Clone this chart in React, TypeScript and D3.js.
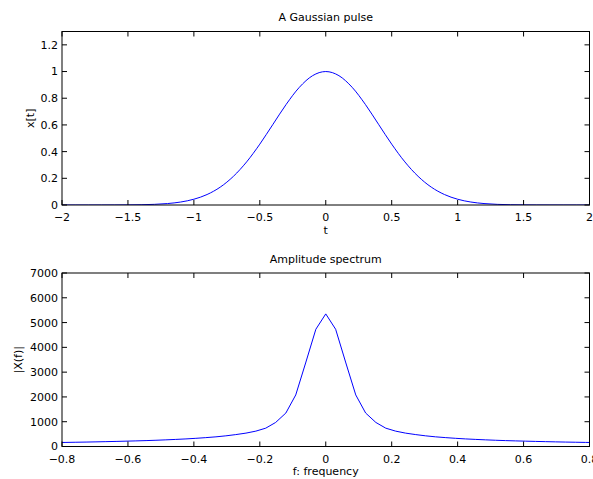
import React from "react";
import * as d3 from "d3";

const W = 593;
const H = 479;

// Top panel: Gaussian pulse
const pulseT = [
  -2, -1.9, -1.8, -1.7, -1.6, -1.5, -1.4, -1.3, -1.2, -1.1, -1, -0.9, -0.8, -0.7, -0.6, -0.5, -0.4, -0.3, -0.2, -0.1,
  0, 0.1, 0.2, 0.3, 0.4, 0.5, 0.6, 0.7, 0.8, 0.9, 1, 1.1, 1.2, 1.3, 1.4, 1.5, 1.6, 1.7, 1.8, 1.9, 2,
];
const pulseX = [
  0, 0, 0, 0.0001, 0.0003, 0.00085, 0.0021, 0.0049, 0.0108, 0.0223, 0.0432, 0.0785, 0.134, 0.215, 0.323, 0.456,
  0.605, 0.754, 0.882, 0.969, 1, 0.969, 0.882, 0.754, 0.605, 0.456, 0.323, 0.215, 0.134, 0.0785, 0.0432, 0.0223,
  0.0108, 0.0049, 0.0021, 0.00085, 0.0003, 0.0001, 0, 0, 0,
];
const pulseXTicks = [-2, -1.5, -1, -0.5, 0, 0.5, 1, 1.5, 2];
const pulseYTicks = [0, 0.2, 0.4, 0.6, 0.8, 1, 1.2];

// Bottom panel: amplitude spectrum
const specF = [
  -0.818, -0.788, -0.758, -0.727, -0.697, -0.667, -0.636, -0.606, -0.576, -0.545, -0.515, -0.485, -0.455, -0.424,
  -0.394, -0.364, -0.333, -0.303, -0.273, -0.242, -0.212, -0.182, -0.152, -0.121, -0.091, -0.061, -0.030, 0,
  0.030, 0.061, 0.091, 0.121, 0.152, 0.182, 0.212, 0.242, 0.273, 0.303, 0.333, 0.364, 0.394, 0.424, 0.455, 0.485,
  0.515, 0.545, 0.576, 0.606, 0.636, 0.667, 0.697, 0.727, 0.758, 0.788, 0.818,
];
const specA = [
  159, 165, 172, 179, 187, 196, 205, 215, 226, 238, 252, 268, 286, 306, 330, 358, 390, 430, 480, 540, 620, 740,
  970, 1350, 2080, 3370, 4730, 5350, 4730, 3370, 2080, 1350, 970, 740, 620, 540, 480, 430, 390, 358, 330, 306,
  286, 268, 252, 238, 226, 215, 205, 196, 187, 179, 172, 165, 159,
];
const specXTicks = [-0.8, -0.6, -0.4, -0.2, 0, 0.2, 0.4, 0.6, 0.8];
const specYTicks = [0, 1000, 2000, 3000, 4000, 5000, 6000, 7000];

const FONT = "DejaVu Sans, sans-serif";
const FS = 11;
const TICK = 5;

type PanelProps = {
  id: string;
  top: number;
  bottom: number;
  left: number;
  right: number;
  xDomain: [number, number];
  yDomain: [number, number];
  xs: number[];
  ys: number[];
  xTicks: number[];
  yTicks: number[];
  title: string;
  titleY: number;
  xLabel: string;
  xLabelY: number;
  yLabel: string;
  yLabelX: number;
  curve: d3.CurveFactory;
};

function fmt(v: number) {
  const s = d3.format("")(v);
  return s;
}

function Panel(p: PanelProps) {
  const x = d3.scaleLinear().domain(p.xDomain).range([p.left, p.right]);
  const y = d3.scaleLinear().domain(p.yDomain).range([p.bottom, p.top]);
  const pts = p.xs.map((v, i) => [v, p.ys[i]] as [number, number]);
  const line = d3
    .line<[number, number]>()
    .x((d) => x(d[0]))
    .y((d) => y(d[1]))
    .curve(p.curve);
  const clipId = "clip-" + p.id;
  return (
    <g>
      <defs>
        <clipPath id={clipId}>
          <rect x={p.left} y={p.top} width={p.right - p.left} height={p.bottom - p.top} />
        </clipPath>
      </defs>
      <rect x={p.left} y={p.top} width={p.right - p.left} height={p.bottom - p.top} fill="#fff" />
      <path d={line(pts) || ""} fill="none" stroke="#0000ff" strokeWidth={1} clipPath={`url(#${clipId})`} />
      <rect
        x={p.left}
        y={p.top}
        width={p.right - p.left}
        height={p.bottom - p.top}
        fill="none"
        stroke="#000"
        strokeWidth={1}
      />
      {p.xTicks.map((t) => (
        <g key={"xt" + t}>
          <line x1={x(t)} x2={x(t)} y1={p.bottom} y2={p.bottom - TICK} stroke="#000" />
          <line x1={x(t)} x2={x(t)} y1={p.top} y2={p.top + TICK} stroke="#000" />
          <text
            x={x(t)}
            y={p.bottom + 16}
            textAnchor="middle"
            fontFamily={FONT}
            fontSize={FS}
            fill="#000"
          >
            {fmt(t)}
          </text>
        </g>
      ))}
      {p.yTicks.map((t) => (
        <g key={"yt" + t}>
          <line x1={p.left} x2={p.left + TICK} y1={y(t)} y2={y(t)} stroke="#000" />
          <line x1={p.right} x2={p.right - TICK} y1={y(t)} y2={y(t)} stroke="#000" />
          <text
            x={p.left - 4}
            y={y(t)}
            dy="0.36em"
            textAnchor="end"
            fontFamily={FONT}
            fontSize={FS}
            fill="#000"
          >
            {fmt(t)}
          </text>
        </g>
      ))}
      <text
        x={(p.left + p.right) / 2}
        y={p.titleY}
        textAnchor="middle"
        fontFamily={FONT}
        fontSize={FS}
        fill="#000"
      >
        {p.title}
      </text>
      <text
        x={(p.left + p.right) / 2}
        y={p.xLabelY}
        textAnchor="middle"
        fontFamily={FONT}
        fontSize={FS}
        fill="#000"
      >
        {p.xLabel}
      </text>
      <text
        transform={`translate(${p.yLabelX},${(p.top + p.bottom) / 2}) rotate(-90)`}
        textAnchor="middle"
        fontFamily={FONT}
        fontSize={FS}
        fill="#000"
      >
        {p.yLabel}
      </text>
    </g>
  );
}

export default function App() {
  return (
    <svg
      width={W}
      height={H}
      style={{ position: "absolute", left: 0, top: 0, background: "#fff" }}
    >
      <rect x={0} y={0} width={W} height={H} fill="#fff" />
      <Panel
        id="top"
        top={31.5}
        bottom={205}
        left={62}
        right={589.5}
        xDomain={[-2, 2]}
        yDomain={[0, 1.3]}
        xs={pulseT}
        ys={pulseX}
        xTicks={pulseXTicks}
        yTicks={pulseYTicks}
        title="A Gaussian pulse"
        titleY={21}
        xLabel="t"
        xLabelY={234}
        yLabel="x[t]"
        yLabelX={34}
        curve={d3.curveMonotoneX}
      />
      <Panel
        id="bottom"
        top={273}
        bottom={446.5}
        left={62}
        right={589.5}
        xDomain={[-0.8, 0.8]}
        yDomain={[0, 7000]}
        xs={specF}
        ys={specA}
        xTicks={specXTicks}
        yTicks={specYTicks}
        title="Amplitude spectrum"
        titleY={263}
        xLabel="f: frequency"
        xLabelY={475}
        yLabel="|X(f)|"
        yLabelX={22}
        curve={d3.curveLinear}
      />
    </svg>
  );
}
